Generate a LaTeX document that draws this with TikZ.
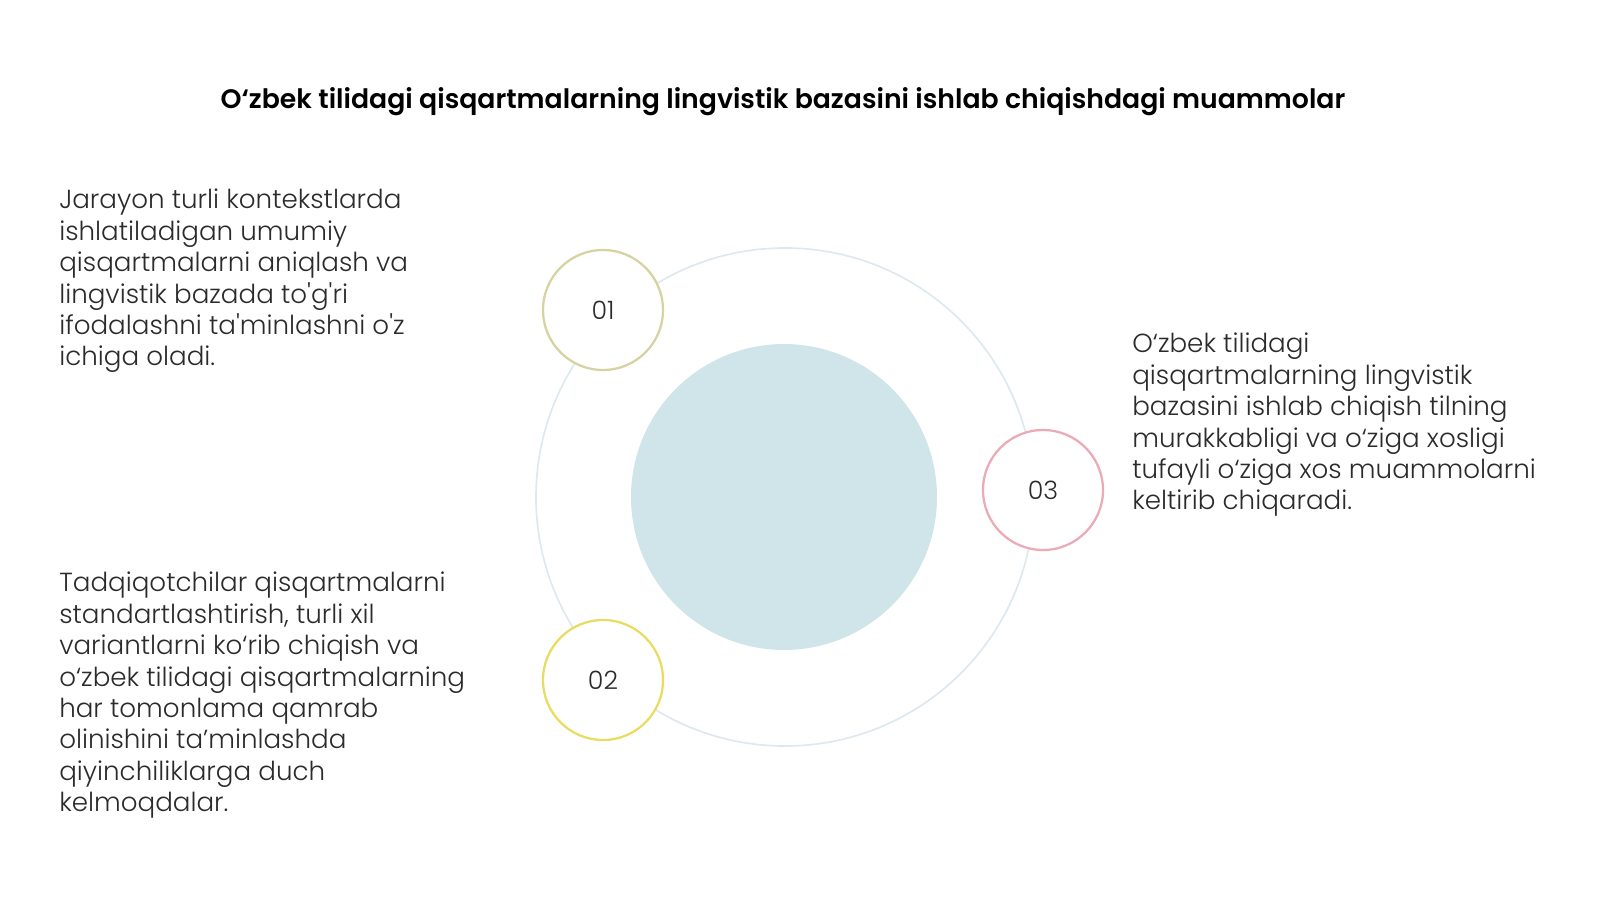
\documentclass[tikz,border=0pt]{standalone}
\usepackage{fontspec}
\setmainfont{Poppins}[UprightFont=* Light, BoldFont=* SemiBold]
\usetikzlibrary{positioning}
\definecolor{ringline}{HTML}{DDE9EE}
\definecolor{corefill}{HTML}{CFE5EA}
\definecolor{oneline}{HTML}{D6D2A2}
\definecolor{twoline}{HTML}{E9DC62}
\definecolor{threeline}{HTML}{EBAAB5}
\definecolor{txt}{HTML}{2B2B2B}
\newcommand{\sq}{\textquotesingle}

\begin{document}
\begin{tikzpicture}[x=0.025cm,y=-0.025cm,
  num/.style={circle,draw,line width=1.6pt,fill=white,minimum size=120*0.025cm,inner sep=0pt,font=\fontsize{18}{20}\selectfont,text=txt},
  blurb/.style={anchor=north west,align=left,inner sep=0pt,font=\fontsize{18.6}{22.3}\selectfont,text=txt}]
  \useasboundingbox (0,0) rectangle (1600,900);

  \node[font=\bfseries\fontsize{19}{22}\selectfont] (title) at (783,102) {O‘zbek tilidagi qisqartmalarning lingvistik bazasini ishlab chiqishdagi muammolar};

  %% ring and core
  \draw[ringline,line width=1.2pt] (785,497) circle (249);
  \fill[corefill] (784,497) circle (153);

  \node[num,draw=oneline] (one) at (603,310) {01};
  \node[num,draw=twoline] (two) at (603,680) {02};
  \node[num,draw=threeline] (three) at (1043,490) {03};

  %% texts
  \node[blurb] (left1) at (59,189) {Jarayon turli kontekstlarda\\ishlatiladigan umumiy\\qisqartmalarni aniqlash va\\lingvistik bazada to\sq g\sq ri\\ifodalashni ta\sq minlashni o\sq z\\ichiga oladi.};
  \node[blurb] (left2) at (59,572) {Tadqiqotchilar qisqartmalarni\\standartlashtirish, turli xil\\variantlarni ko‘rib chiqish va\\o‘zbek tilidagi qisqartmalarning\\har tomonlama qamrab\\olinishini ta’minlashda\\qiyinchiliklarga duch\\kelmoqdalar.};
  \node[blurb] (right3) at (1132,333) {O‘zbek tilidagi\\qisqartmalarning lingvistik\\bazasini ishlab chiqish tilning\\murakkabligi va o‘ziga xosligi\\tufayli o‘ziga xos muammolarni\\keltirib chiqaradi.};
\end{tikzpicture}
\end{document}
